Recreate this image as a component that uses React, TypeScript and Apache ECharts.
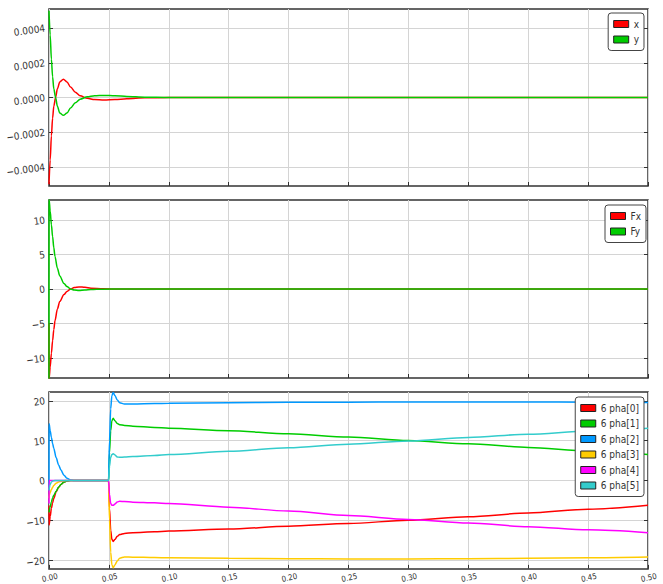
import React, { useEffect, useRef } from 'react';
import * as echarts from 'echarts';

// ---- panel 1: position x, y ----
const T1 = [0, 0.001, 0.002, 0.003, 0.004, 0.0055, 0.007, 0.009, 0.012, 0.015, 0.018, 0.022, 0.026, 0.032, 0.038, 0.046, 0.055, 0.065, 0.08, 0.1, 0.5];
const POS_X = [-0.0005, -0.00036, -0.00022, -0.00012, -0.00005, 0, 0.00005, 0.00009, 0.000105, 0.00009, 0.00006, 0.00003, 0.00001, -0.000005, -0.000012, -0.000014, -0.000012, -0.000007, -0.000002, 0, 0];
const POS_Y = [0.0005, 0.00036, 0.00022, 0.00012, 0.00005, 0, -0.00005, -0.00009, -0.000103, -0.00009, -0.00006, -0.00003, -0.00001, 0.000004, 0.00001, 0.000012, 0.00001, 0.000006, 0.000002, 0, 0];
const TICKS1 = [-0.0004, -0.0002, 0, 0.0002, 0.0004];

// ---- panel 2: forces Fx, Fy ----
const T2 = [0, 0.0001, 0.001, 0.002, 0.003, 0.004, 0.005, 0.007, 0.009, 0.0125, 0.015, 0.018, 0.021, 0.025, 0.03, 0.035, 0.045, 0.06, 0.5];
const FX = [-5, -13, -11.3, -9.3, -7.5, -5.9, -4.6, -2.9, -1.8, -0.8, -0.35, 0, 0.2, 0.3, 0.25, 0.12, 0.02, 0, 0];
const FY = [-13, 13, 11.3, 9.3, 7.6, 6.0, 4.7, 3.0, 1.9, 0.8, 0.35, 0, -0.15, -0.2, -0.15, -0.08, -0.02, 0, 0];
const TICKS2 = [-10, -5, 0, 5, 10];

// ---- panel 3: six phase currents ----
const T3 = [0, 0.0001, 0.001, 0.002, 0.003, 0.004, 0.006, 0.008, 0.010, 0.0125, 0.015, 0.018, 0.021, 0.0497,
  0.0505, 0.0515, 0.0525, 0.0536, 0.055, 0.057, 0.059, 0.063, 0.07, 0.088, 0.1, 0.15, 0.2, 0.25, 0.3, 0.35, 0.4, 0.45, 0.5];
const PHA0 = [-6.3, -11.2, -9.0, -7.0, -5.6, -4.5, -2.8, -1.7, -1.0, -0.4, -0.15, 0, 0, 0,
  -7, -12.5, -14.8, -15.3, -14.8, -14.0, -13.6, -13.3, -13.1, -12.9, -12.7, -12.2, -11.5, -10.8, -10.0, -9.1, -8.2, -7.2, -6.2];
const PHA1 = [-8.0, -8.0, -6.6, -5.4, -4.4, -3.7, -2.7, -1.7, -1.0, -0.4, -0.15, 0, 0, 0,
  7, 12.5, 15.0, 15.6, 15.0, 14.3, 14.0, 13.8, 13.6, 13.3, 13.1, 12.5, 11.7, 10.9, 10.0, 9.2, 8.3, 7.4, 6.5];
const PHA2 = [-2.5, 14.2, 12.5, 10.8, 9.3, 8.0, 5.7, 3.9, 2.6, 1.3, 0.55, 0.1, 0, 0,
  10, 18, 21.3, 22.1, 21.3, 20.2, 19.5, 19.2, 19.2, 19.3, 19.35, 19.5, 19.6, 19.65, 19.7, 19.7, 19.7, 19.65, 19.55];
const PHA3 = [-4.5, -3.8, -3.0, -2.3, -1.7, -1.25, -0.7, -0.4, -0.2, -0.05, 0, 0, 0, 0,
  -10, -18, -21.2, -21.9, -21.2, -20.2, -19.5, -19.2, -19.25, -19.35, -19.4, -19.55, -19.65, -19.7, -19.7, -19.65, -19.55, -19.4, -19.2];
const PHA4 = [-5.8, 0, 0, 0, 0, 0, 0, 0, 0, 0, 0, 0, 0, 0,
  -3.5, -5.8, -6.2, -6.25, -5.9, -5.4, -5.25, -5.3, -5.45, -5.6, -5.8, -6.7, -7.7, -8.8, -9.8, -10.7, -11.6, -12.4, -13.1];
const PHA5 = [-2.5, -2.5, -1.0, -0.4, -0.15, -0.05, 0, 0, 0, 0, 0, 0, 0, 0,
  3.5, 5.8, 6.5, 6.7, 6.4, 5.9, 5.8, 5.9, 6.0, 6.25, 6.5, 7.3, 8.2, 9.1, 9.9, 10.8, 11.6, 12.4, 13.1];
const TICKS3 = [-20, -10, 0, 10, 20];

const X_TICKS = [0, 0.05, 0.1, 0.15, 0.2, 0.25, 0.3, 0.35, 0.4, 0.45, 0.5];

const RED = '#ff0000';
const GREEN = '#00cc00';
const BLUE = '#0099ff';
const YELLOW = '#ffcc00';
const MAGENTA = '#ff00ff';
const CYAN = '#33cccc';

const FONT = "'DejaVu Sans Condensed', 'Liberation Sans Narrow', 'DejaVu Sans', sans-serif";
const INK = '#333';

const minus = (s: string, v: number) => (v < 0 ? '\u2212' + s : s);

const panels = [
  { top: 9, height: 177, min: -0.00051, max: 0.00051, ticks: TICKS1, fmt: (v: number) => minus(Math.abs(v).toFixed(4), v) },
  { top: 200, height: 178, min: -12.9, max: 12.9, ticks: TICKS2, fmt: (v: number) => minus(String(Math.abs(v)), v) },
  { top: 392, height: 177, min: -22.2, max: 22.2, ticks: TICKS3, fmt: (v: number) => minus(String(Math.abs(v)), v) },
];

const seriesDefs = [
  { name: 'x', panel: 0, t: T1, v: POS_X, color: RED },
  { name: 'y', panel: 0, t: T1, v: POS_Y, color: GREEN },
  { name: 'Fx', panel: 1, t: T2, v: FX, color: RED },
  { name: 'Fy', panel: 1, t: T2, v: FY, color: GREEN },
  { name: '6 pha[0]', panel: 2, t: T3, v: PHA0, color: RED },
  { name: '6 pha[1]', panel: 2, t: T3, v: PHA1, color: GREEN },
  { name: '6 pha[2]', panel: 2, t: T3, v: PHA2, color: BLUE },
  { name: '6 pha[3]', panel: 2, t: T3, v: PHA3, color: YELLOW },
  { name: '6 pha[4]', panel: 2, t: T3, v: PHA4, color: MAGENTA },
  { name: '6 pha[5]', panel: 2, t: T3, v: PHA5, color: CYAN },
];

const legendPlacement = [
  { right: 19, top: 13, names: ['x', 'y'] },
  { right: 17, top: 205, names: ['Fx', 'Fy'] },
  { right: 19, top: 397, names: ['6 pha[0]', '6 pha[1]', '6 pha[2]', '6 pha[3]', '6 pha[4]', '6 pha[5]'] },
];

function buildOption() {
  const grid = panels.map((p) => ({
    left: 49, width: 599, top: p.top, height: p.height,
    show: true, borderColor: INK, borderWidth: 1.5, backgroundColor: '#fff',
  }));

  const xAxis = panels.map((_, i) => ({
    type: 'value', gridIndex: i, min: 0, max: 0.5, position: 'bottom',
    axisLine: { show: false, onZero: false },
    axisTick: { inside: true, length: 4, lineStyle: { color: INK }, customValues: X_TICKS },
    splitLine: { show: true, lineStyle: { color: '#d4d4d4', width: 1 } },
    axisLabel: {
      show: i === 2, customValues: X_TICKS, rotate: 12, fontSize: 8, color: INK, fontFamily: FONT,
      margin: 5, align: 'center', verticalAlign: 'top',
      formatter: (v: number) => v.toFixed(2),
    },
  }));

  const yLeft = panels.map((p, i) => ({
    type: 'value', gridIndex: i, min: p.min, max: p.max, position: 'left',
    axisLine: { show: false, onZero: false },
    axisTick: { inside: true, length: 4, lineStyle: { color: INK }, customValues: p.ticks },
    splitLine: { show: true, lineStyle: { color: '#d4d4d4', width: 1 } },
    axisLabel: {
      customValues: p.ticks, fontSize: 10, color: INK, fontFamily: FONT, margin: 4, rotate: 8,
      formatter: p.fmt,
    },
  }));

  const yRight = panels.map((p, i) => ({
    type: 'value', gridIndex: i, min: p.min, max: p.max, position: 'right',
    axisLine: { show: false, onZero: false },
    axisTick: { inside: true, length: 4, lineStyle: { color: INK }, customValues: p.ticks },
    splitLine: { show: false },
    axisLabel: { show: false },
  }));

  const series = seriesDefs.map((s) => ({
    name: s.name,
    type: 'line',
    xAxisIndex: s.panel,
    yAxisIndex: s.panel,
    data: s.t.map((t, k) => [t, s.v[k]]),
    showSymbol: false,
    symbol: 'none',
    smooth: 0.3,
    smoothMonotone: 'x',
    color: s.color,
    lineStyle: { width: 1.5, color: s.color },
  }));

  const legend = legendPlacement.map((l) => ({
    orient: 'vertical', right: l.right, top: l.top, data: l.names,
    icon: 'rect', itemWidth: 15, itemHeight: 7, itemGap: 3.5, padding: 5,
    backgroundColor: '#fff', borderColor: '#444', borderWidth: 1, borderRadius: 3,
    itemStyle: { borderColor: '#222', borderWidth: 1 },
    textStyle: { fontSize: 10, color: INK, fontFamily: FONT, lineHeight: 12 },
    selectedMode: false,
  }));

  return {
    animation: false,
    backgroundColor: '#fff',
    grid,
    xAxis,
    yAxis: [...yLeft, ...yRight],
    legend,
    series,
  };
}

export default function App() {
  const ref = useRef<HTMLDivElement>(null);
  useEffect(() => {
    if (!ref.current) return;
    const chart = echarts.init(ref.current, null, { renderer: 'svg' });
    chart.setOption(buildOption() as any);
    return () => chart.dispose();
  }, []);
  return (
    <div
      ref={ref}
      style={{ position: 'fixed', left: 0, top: 0, width: 663, height: 584, background: '#fff' }}
    />
  );
}
